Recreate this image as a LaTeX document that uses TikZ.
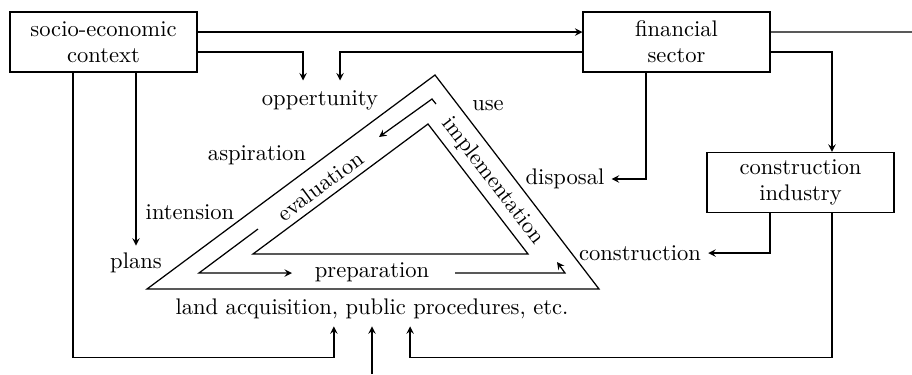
\documentclass[tikz,border=0pt]{standalone}
\usepackage{tikz}
\usetikzlibrary{arrows,positioning,calc}

\begin{document}
\begin{tikzpicture}[x=0.483pt,y=-0.483pt,
	every node/.style={font=\fontsize{10.9}{12.4}\selectfont},
	box/.style={draw,semithick,minimum width=90.3pt,minimum height=29pt,align=center,inner sep=2pt},
	arr/.style={-stealth,semithick}]
	\useasboundingbox (0,0) rectangle (912,374);
	% boxes
	\node[box] (socio) at (103.5,42) {socio-economic\\context};
	\node[box] (fin) at (676.5,42) {financial\\sector};
	\node[box] (ind) at (800.5,182.5) {construction\\industry};
	% labels round the triangle
	\node (opp) at (320,100) {oppertunity};
	\node (asp) at (257,155) {aspiration};
	\node (int) at (190,212) {intension};
	\node (plans) at (136,263) {plans};
	\node (use) at (488,106) {use};
	\node (disp) at (565,179) {disposal};
	\node (constr) at (640,253) {construction};
	\node (land) at (372,309) {land acquisition, public procedures, etc.};
	\coordinate (edge) at (912,32);
	\coordinate (input) at (372,374);
	% triangle
	\draw[semithick] (147,289) -- (435,75) -- (599,289) -- cycle;
	\draw[semithick] (253,254) -- (428,124) -- (528,254) -- cycle;
	\draw[arr] (436,104) -- (432,99) -- (379,137);
	\draw[arr] (258,229) -- (199,273) -- (292,273);
	\draw[arr] (455,273) -- (565,273) -- (557,262);
	\node[rotate=36.6] (eval) at (320,186) {evaluation};
	\node[rotate=-52.5] (impl) at (493,181) {implementation};
	\node (prep) at (372,272) {preparation};
	% connectors
	\draw[arr] ([yshift=4.8pt]socio.east) -- ([yshift=4.8pt]fin.west);
	\draw[semithick] ([yshift=4.8pt]fin.east) -- (edge);
	\draw[arr] ([yshift=-4.8pt]socio.east) -| ([xshift=-8.2pt,yshift=1.2pt]opp.north);
	\draw[arr] ([yshift=-4.8pt]fin.west) -| ([xshift=9.7pt,yshift=1.2pt]opp.north);
	\draw[arr] ([yshift=-4.8pt]fin.east) -| ([xshift=15.2pt]ind.north);
	\draw[arr] ([xshift=-14.7pt]fin.south) |- (disp.east);
	\draw[arr] ([xshift=-14.7pt]ind.south) |- (constr.east);
	\draw[arr] (plans.north |- socio.south) -- (plans.north);
	\draw[arr] ([xshift=-14.7pt]socio.south) |- ([xshift=-18.4pt,yshift=-15pt]land.south) -- ([xshift=-18.4pt]land.south);
	\draw[arr] (input) -- (land.south);
	\draw[arr] ([xshift=15.2pt]ind.south) |- ([xshift=18.4pt,yshift=-15pt]land.south) -- ([xshift=18.4pt]land.south);
\end{tikzpicture}
\end{document}
